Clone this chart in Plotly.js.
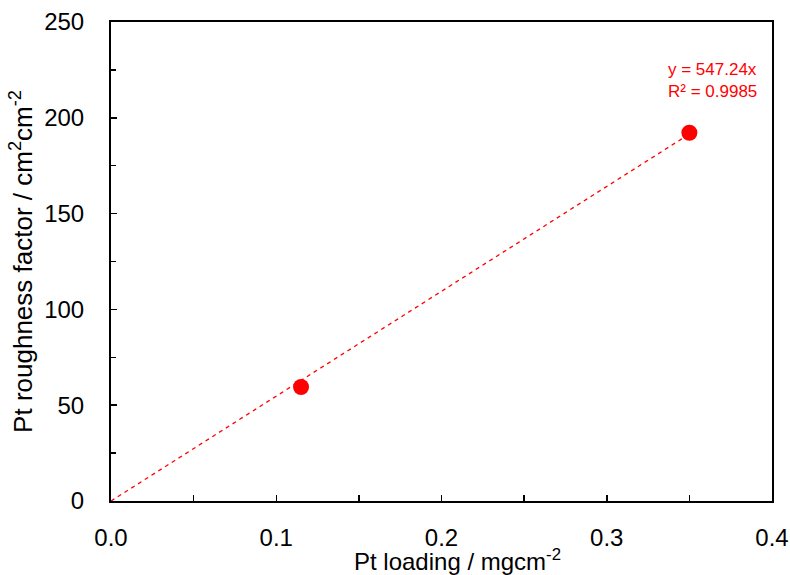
<!DOCTYPE html>
<html><head><meta charset="utf-8">
<script src="https://cdn.plot.ly/plotly-3.0.1.min.js"></script>
<style>html,body{margin:0;padding:0;background:#fff;}#chart{width:790px;height:575px;}</style>
</head><body><div id="chart"></div>
<script>
const loading = [0.115, 0.35];
const roughness = [59.5, 192.2];
const slope = 547.24;
const fitX = [0, 0.35];
const fitY = fitX.map(x => slope * x);
const xTicks = [0.0, 0.1, 0.2, 0.3, 0.4];
const xTickText = ['0.0', '0.1', '0.2', '0.3', '0.4'];
const yTicks = [0, 50, 100, 150, 200, 250];

const font = 'Liberation Sans, Arial, sans-serif';
const data = [
  {x: fitX, y: fitY, mode: 'lines', line: {color: '#ff0000', width: 1.3, dash: '4px,4px'}, hoverinfo: 'skip'},
  {x: loading, y: roughness, mode: 'markers', marker: {color: '#ff0000', size: 16}}
];
const layout = {
  width: 790, height: 575,
  margin: {l: 111, r: 18, t: 22, b: 74},
  showlegend: false,
  paper_bgcolor: '#fff', plot_bgcolor: '#fff',
  font: {family: font, color: '#000', size: 24},
  xaxis: {
    range: [0, 0.4], tickvals: xTicks, ticktext: xTickText,
    ticks: 'inside', ticklen: 6, tickwidth: 1.5, tickcolor: '#000',
    minor: {dtick: 0.05, tick0: 0, ticks: 'inside', ticklen: 6, tickwidth: 1.5, tickcolor: '#000'},
    showgrid: false, zeroline: false, showline: true, linecolor: '#000', linewidth: 2, mirror: true,
    tickfont: {size: 24}, ticklabelstandoff: 14
  },
  yaxis: {
    range: [0, 250], tickvals: yTicks,
    ticks: 'inside', ticklen: 6, tickwidth: 1.5, tickcolor: '#000',
    minor: {dtick: 25, tick0: 0, ticks: 'inside', ticklen: 5, tickwidth: 1.5, tickcolor: '#000'},
    showgrid: false, zeroline: false, showline: true, linecolor: '#000', linewidth: 2, mirror: true,
    tickfont: {size: 24}, ticklabelstandoff: 20,
    title: {text: 'Pt roughness factor / cm<sup>2</sup>cm<sup>-2</sup>', font: {size: 26}, standoff: 4}
  },
  annotations: [
    {
      xref: 'paper', yref: 'paper', x: 0.981, y: 0.925, xanchor: 'right', yanchor: 'top',
      text: 'y = 547.24x<br>R² = 0.9985', align: 'left', showarrow: false,
      font: {family: font, size: 17, color: '#ff0000'}
    },
    {
      xref: 'paper', yref: 'paper', x: 0.524, y: -0.088, xanchor: 'center', yanchor: 'top',
      text: 'Pt loading / mgcm<sup>-2</sup>', showarrow: false,
      font: {family: font, size: 24, color: '#000'}
    }
  ]
};
Plotly.newPlot('chart', data, layout, {displayModeBar: false, staticPlot: true});
</script></body></html>
